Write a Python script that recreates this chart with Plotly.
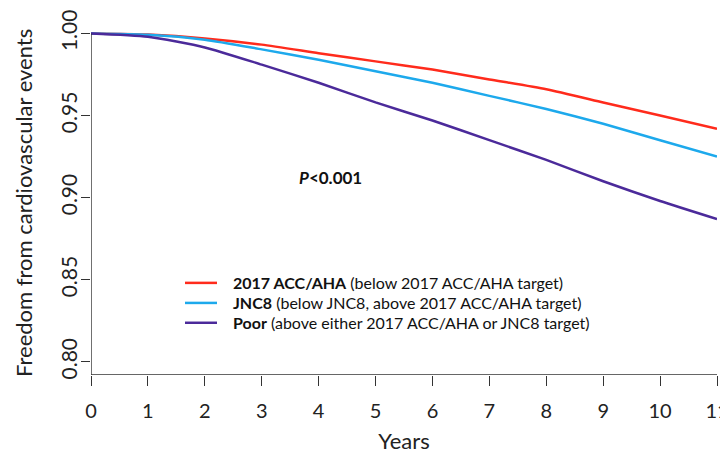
import plotly.graph_objects as go

years = list(range(0, 12))
acc_aha = [1.0, 0.9993, 0.997, 0.9932, 0.988, 0.983, 0.978, 0.972, 0.966, 0.958, 0.950, 0.942]
jnc8 = [1.0, 0.9992, 0.9962, 0.9903, 0.984, 0.977, 0.970, 0.962, 0.954, 0.945, 0.935, 0.925]
poor = [1.0, 0.998, 0.9915, 0.981, 0.970, 0.958, 0.947, 0.935, 0.923, 0.910, 0.898, 0.887]

names = [
    "<b>2017 ACC/AHA</b> (below 2017 ACC/AHA target)",
    "<b>JNC8</b> (below JNC8, above 2017 ACC/AHA target)",
    "<b>Poor</b> (above either 2017 ACC/AHA or JNC8 target)",
]
colors = ["#FF2B1C", "#1DA9EC", "#4B2A9A"]
x_ticks = list(range(0, 12))
y_ticks = [0.80, 0.85, 0.90, 0.95, 1.00]

# legend placement (data coordinates)
leg_x0, leg_x1, leg_tx = 1.652, 2.214, 2.46
leg_y = [0.8481, 0.8359, 0.8238]

FONT = "Lato, Open Sans, sans-serif"
fig = go.Figure()
for ys, nm, c, ly in zip([acc_aha, jnc8, poor], names, colors, leg_y):
    fig.add_trace(go.Scatter(x=years, y=ys, mode="lines", name=nm, showlegend=False,
                             line=dict(color=c, width=2.5, shape="spline", smoothing=0.6)))
    fig.add_shape(type="line", xref="x", yref="y", x0=leg_x0, x1=leg_x1, y0=ly, y1=ly,
                  line=dict(color=c, width=2.5))
    fig.add_annotation(x=leg_tx, y=ly, xref="x", yref="y", xanchor="left", yanchor="middle",
                       showarrow=False, text=nm,
                       font=dict(size=16, family=FONT, color="#111111"))

Y0, Y1 = 0.792, 1.0015
fig.add_shape(type="line", xref="x", yref="y", x0=0, x1=11, y0=Y0, y1=Y0,
              line=dict(color="#333333", width=1.4))
fig.add_shape(type="line", xref="x", yref="y", x0=0, x1=0, y0=Y0, y1=1.0,
              line=dict(color="#333333", width=1.4))

fig.add_annotation(x=4.2, y=0.912, xref="x", yref="y", showarrow=False,
                   text="<b><i>P</i>&lt;0.001</b>", font=dict(size=17, color="#111111", family=FONT))

# y-axis title as rotated annotation
fig.add_annotation(x=0, y=0.5, xref="paper", yref="paper", xanchor="center", yanchor="middle",
                   xshift=-68, showarrow=False, textangle=-90,
                   text="Freedom from cardiovascular events",
                   font=dict(size=22, family=FONT, color="#222222"))

fig.update_layout(
    width=720, height=450,
    margin=dict(l=83, r=11, t=23, b=83),
    plot_bgcolor="white", paper_bgcolor="white",
    font=dict(family=FONT, color="#222222"),
    showlegend=False,
    xaxis=dict(range=[0, 11], tickvals=x_ticks, ticktext=[str(v) for v in x_ticks],
               automargin=False, ticklabelstandoff=8, ticklabeloverflow="allow",
               showgrid=False, zeroline=False, showline=False,
               ticks="outside", ticklen=10, tickcolor="#333333", tickwidth=1.4,
               tickfont=dict(size=20, family=FONT, color="#222222"),
               title=dict(text="Years", font=dict(size=22, family=FONT, color="#222222"), standoff=12)),
    yaxis=dict(range=[Y0, Y1], tickvals=y_ticks, ticktext=[f"{v:.2f}" for v in y_ticks],
               tickangle=-90, automargin=False, ticklabelstandoff=-4, ticklabeloverflow="allow",
               showgrid=False, zeroline=False, showline=False,
               ticks="outside", ticklen=9, tickcolor="#333333", tickwidth=1.4,
               tickfont=dict(size=21, family=FONT, color="#222222")),
)

fig.write_html("out.html")
